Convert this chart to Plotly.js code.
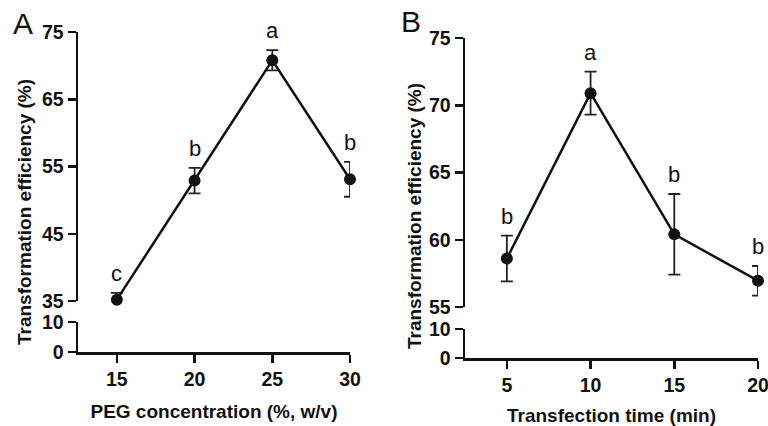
<!DOCTYPE html>
<html>
<head>
<meta charset="utf-8">
<script src="https://cdn.plot.ly/plotly-3.0.1.min.js"></script>
<style>html,body{margin:0;padding:0;background:#fff;}#chart{width:768px;height:426px;}</style>
</head>
<body>
<div id="chart"></div>
<script>
// ---- data ----
const pegConc = [15, 20, 25, 30];
const effPeg = [35.2, 52.9, 70.8, 53.1];
const errPeg = [1.0, 1.9, 1.5, 2.6];
const lettersPeg = ['c', 'b', 'a', 'b'];

const transTime = [5, 10, 15, 20];
const effTime = [58.6, 70.9, 60.4, 56.95];
const errTime = [1.7, 1.6, 3.0, 1.1];
const lettersTime = ['b', 'a', 'b', 'b'];

const xTicksA = [15, 20, 25, 30];
const yTicksAUpper = [35, 45, 55, 65, 75];
const yTicksALower = [0, 10];
const xTicksB = [5, 10, 15, 20];
const yTicksBUpper = [55, 60, 65, 70, 75];
const yTicksBLower = [0, 10];

const yTitle = 'Transformation efficiency (%)';
const xTitleA = 'PEG concentration (%, w/v)';
const xTitleB = 'Transfection time (min)';

// ---- styles ----
const FAM = 'Liberation Sans, Arial, Helvetica, sans-serif';
const tickFont = {family: FAM, size: 19.5, color: '#111', weight: 'bold'};
const titleFont = {family: FAM, size: 19, color: '#111', weight: 'bold'};
const letterFont = {family: FAM, size: 22, color: '#111'};
const LW = 2.5;

function seriesTrace(x, y, err, xa, ya) {
  return {
    type: 'scatter', mode: 'lines+markers', x: x, y: y, xaxis: xa, yaxis: ya,
    line: {color: '#111', width: 2.5},
    marker: {color: '#111', size: 12},
    error_y: {type: 'data', array: err, visible: true, color: '#222', thickness: 1.8, width: 6},
    cliponaxis: false, showlegend: false, hoverinfo: 'x+y'
  };
}
function emptyTrace(xa, ya) {
  return {type: 'scatter', mode: 'markers', x: [], y: [], xaxis: xa, yaxis: ya, showlegend: false, hoverinfo: 'skip'};
}
function yAx(domain, range, tickvals, anchor) {
  return {
    domain: domain, range: range, anchor: anchor, tickvals: tickvals,
    showline: true, linecolor: '#111', linewidth: LW,
    ticks: 'outside', ticklen: 8, tickwidth: LW, tickcolor: '#111',
    tickfont: tickFont, showgrid: false, zeroline: false, fixedrange: true
  };
}
function xAx(domain, range, tickvals, anchor, title) {
  return {
    domain: domain, range: range, anchor: anchor, tickvals: tickvals,
    showline: true, linecolor: '#111', linewidth: LW,
    ticks: 'outside', ticklen: 8, tickwidth: LW, tickcolor: '#111',
    tickfont: tickFont, showgrid: false, zeroline: false, fixedrange: true,
    ticklabeloverflow: 'allow',
    title: {text: title, font: titleFont, standoff: 16}
  };
}

const W = 768, H = 426;
const px = v => v / W;
const py = v => 1 - v / H;

const data = [
  seriesTrace(pegConc, effPeg, errPeg, 'x', 'y'),
  emptyTrace('x', 'y2'),
  seriesTrace(transTime, effTime, errTime, 'x2', 'y3'),
  emptyTrace('x2', 'y4')
];

const annotations = [];
lettersPeg.forEach((t, i) => annotations.push({
  text: t, x: pegConc[i], y: effPeg[i] + errPeg[i], xref: 'x', yref: 'y',
  xanchor: 'center', yanchor: 'bottom', yshift: 5, showarrow: false, font: letterFont
}));
lettersTime.forEach((t, i) => annotations.push({
  text: t, x: transTime[i], y: effTime[i] + errTime[i], xref: 'x2', yref: 'y3',
  xanchor: 'center', yanchor: 'bottom', yshift: 5, showarrow: false, font: letterFont
}));
annotations.push({text: yTitle, xref: 'paper', yref: 'paper', x: px(24), y: py(212),
  textangle: -90, xanchor: 'center', yanchor: 'middle', showarrow: false, font: titleFont});
annotations.push({text: yTitle, xref: 'paper', yref: 'paper', x: px(414), y: py(216),
  textangle: -90, xanchor: 'center', yanchor: 'middle', showarrow: false, font: titleFont});
annotations.push({text: 'A', xref: 'paper', yref: 'paper', x: px(23), y: py(23),
  xanchor: 'center', yanchor: 'middle', showarrow: false, font: {family: FAM, size: 30, color: '#111'}});
annotations.push({text: 'B', xref: 'paper', yref: 'paper', x: px(411), y: py(22),
  xanchor: 'center', yanchor: 'middle', showarrow: false, font: {family: FAM, size: 30, color: '#111'}});

const layout = {
  width: W, height: H,
  margin: {l: 0, r: 0, t: 0, b: 0, pad: 0},
  paper_bgcolor: '#fff', plot_bgcolor: 'rgba(0,0,0,0)',
  showlegend: false,
  xaxis: xAx([px(78), px(350)], [12.5, 30], xTicksA, 'y2', xTitleA),
  yaxis: yAx([py(301), py(32)], [35, 75], yTicksAUpper, 'x'),
  yaxis2: yAx([py(352), py(322)], [0, 10], yTicksALower, 'x'),
  xaxis2: xAx([px(465), px(758)], [2.5, 20], xTicksB, 'y4', xTitleB),
  yaxis3: yAx([py(307), py(38)], [55, 75], yTicksBUpper, 'x2'),
  yaxis4: yAx([py(358), py(329)], [0, 10], yTicksBLower, 'x2'),
  annotations: annotations
};

Plotly.newPlot('chart', data, layout, {displayModeBar: false, staticPlot: true});
</script>
</body>
</html>
